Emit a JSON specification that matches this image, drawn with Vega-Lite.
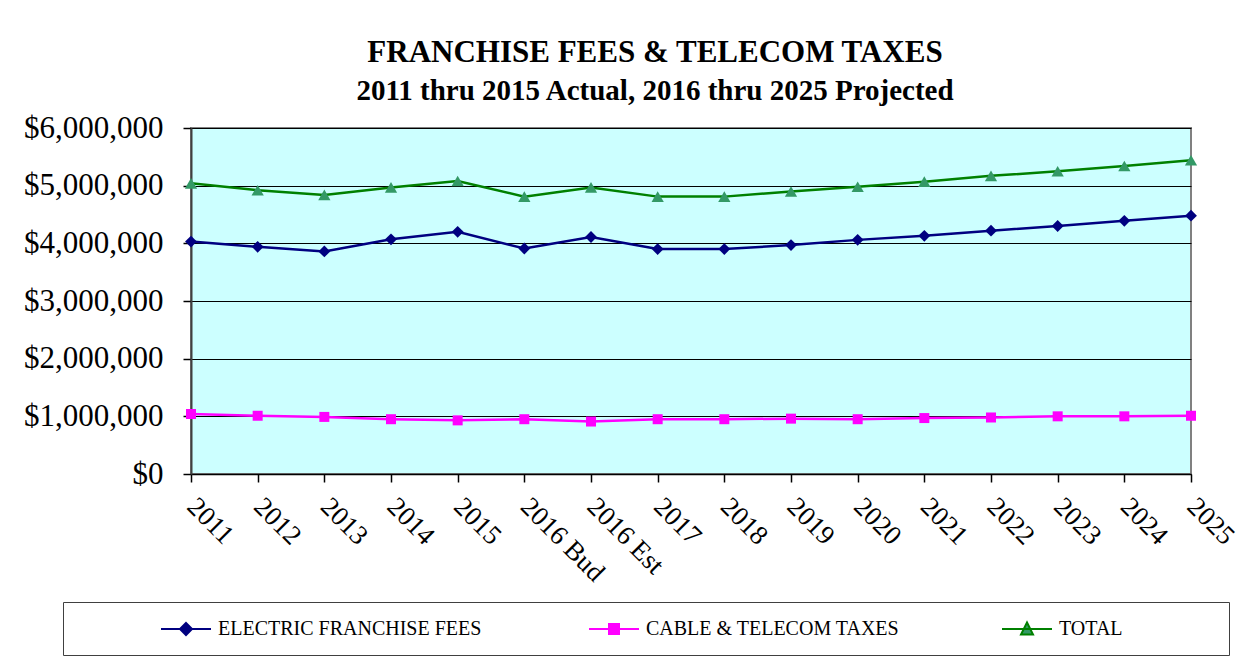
{
  "$schema": "https://vega.github.io/schema/vega-lite/v6.json",
  "width": 1000,
  "height": 346,
  "autosize": {"type": "none"},
  "padding": {"left": 191, "top": 128, "right": 58, "bottom": 198},
  "background": "white",
  "title": {
    "text": "FRANCHISE FEES & TELECOM TAXES",
    "subtitle": "2011 thru 2015 Actual, 2016 thru 2025 Projected",
    "anchor": "middle",
    "frame": "group",
    "dx": -36,
    "offset": 5,
    "font": "Liberation Serif",
    "fontSize": 31,
    "fontWeight": "bold",
    "color": "#000000",
    "subtitleFont": "Liberation Serif",
    "subtitleFontSize": 29,
    "subtitleFontWeight": "bold",
    "subtitleColor": "#000000",
    "subtitlePadding": 8
  },
  "config": {
    "view": {"fill": "#CCFFFF", "stroke": "#808080", "strokeWidth": 2},
    "axis": {"labelFont": "Liberation Serif", "labelColor": "#000000", "domainColor": "#000000", "tickColor": "#000000", "domainWidth": 1.5, "tickWidth": 1.5, "tickSize": 8}
  },
  "data": {
    "values": [
      {"year": "2011", "series": "ELECTRIC FRANCHISE  FEES", "value": 4030000},
      {"year": "2012", "series": "ELECTRIC FRANCHISE  FEES", "value": 3940000},
      {"year": "2013", "series": "ELECTRIC FRANCHISE  FEES", "value": 3860000},
      {"year": "2014", "series": "ELECTRIC FRANCHISE  FEES", "value": 4070000},
      {"year": "2015", "series": "ELECTRIC FRANCHISE  FEES", "value": 4200000},
      {"year": "2016 Bud", "series": "ELECTRIC FRANCHISE  FEES", "value": 3910000},
      {"year": "2016 Est", "series": "ELECTRIC FRANCHISE  FEES", "value": 4110000},
      {"year": "2017", "series": "ELECTRIC FRANCHISE  FEES", "value": 3900000},
      {"year": "2018", "series": "ELECTRIC FRANCHISE  FEES", "value": 3900000},
      {"year": "2019", "series": "ELECTRIC FRANCHISE  FEES", "value": 3970000},
      {"year": "2020", "series": "ELECTRIC FRANCHISE  FEES", "value": 4060000},
      {"year": "2021", "series": "ELECTRIC FRANCHISE  FEES", "value": 4130000},
      {"year": "2022", "series": "ELECTRIC FRANCHISE  FEES", "value": 4220000},
      {"year": "2023", "series": "ELECTRIC FRANCHISE  FEES", "value": 4300000},
      {"year": "2024", "series": "ELECTRIC FRANCHISE  FEES", "value": 4390000},
      {"year": "2025", "series": "ELECTRIC FRANCHISE  FEES", "value": 4480000},
      {"year": "2011", "series": "CABLE & TELECOM TAXES", "value": 1040000},
      {"year": "2012", "series": "CABLE & TELECOM TAXES", "value": 1010000},
      {"year": "2013", "series": "CABLE & TELECOM TAXES", "value": 990000},
      {"year": "2014", "series": "CABLE & TELECOM TAXES", "value": 950000},
      {"year": "2015", "series": "CABLE & TELECOM TAXES", "value": 930000},
      {"year": "2016 Bud", "series": "CABLE & TELECOM TAXES", "value": 950000},
      {"year": "2016 Est", "series": "CABLE & TELECOM TAXES", "value": 910000},
      {"year": "2017", "series": "CABLE & TELECOM TAXES", "value": 950000},
      {"year": "2018", "series": "CABLE & TELECOM TAXES", "value": 950000},
      {"year": "2019", "series": "CABLE & TELECOM TAXES", "value": 960000},
      {"year": "2020", "series": "CABLE & TELECOM TAXES", "value": 950000},
      {"year": "2021", "series": "CABLE & TELECOM TAXES", "value": 970000},
      {"year": "2022", "series": "CABLE & TELECOM TAXES", "value": 980000},
      {"year": "2023", "series": "CABLE & TELECOM TAXES", "value": 1000000},
      {"year": "2024", "series": "CABLE & TELECOM TAXES", "value": 1000000},
      {"year": "2025", "series": "CABLE & TELECOM TAXES", "value": 1010000},
      {"year": "2011", "series": "TOTAL", "value": 5040000},
      {"year": "2012", "series": "TOTAL", "value": 4920000},
      {"year": "2013", "series": "TOTAL", "value": 4840000},
      {"year": "2014", "series": "TOTAL", "value": 4970000},
      {"year": "2015", "series": "TOTAL", "value": 5080000},
      {"year": "2016 Bud", "series": "TOTAL", "value": 4810000},
      {"year": "2016 Est", "series": "TOTAL", "value": 4970000},
      {"year": "2017", "series": "TOTAL", "value": 4810000},
      {"year": "2018", "series": "TOTAL", "value": 4810000},
      {"year": "2019", "series": "TOTAL", "value": 4900000},
      {"year": "2020", "series": "TOTAL", "value": 4980000},
      {"year": "2021", "series": "TOTAL", "value": 5070000},
      {"year": "2022", "series": "TOTAL", "value": 5170000},
      {"year": "2023", "series": "TOTAL", "value": 5250000},
      {"year": "2024", "series": "TOTAL", "value": 5340000},
      {"year": "2025", "series": "TOTAL", "value": 5440000}
    ]
  },
  "encoding": {
    "x": {
      "field": "year", "type": "ordinal", "sort": null,
      "scale": {"type": "point", "padding": 0},
      "axis": {"title": null, "labelAngle": 45, "labelAlign": "left", "labelBaseline": "middle", "labelFontSize": 27, "labelPadding": 20, "labelOverlap": false, "grid": false}
    },
    "y": {
      "field": "value", "type": "quantitative",
      "scale": {"domain": [0, 6000000], "nice": false},
      "axis": {"title": null, "values": [0, 1000000, 2000000, 3000000, 4000000, 5000000, 6000000], "format": "$,.0f", "labelFontSize": 31, "labelPadding": 20, "grid": true, "gridColor": "#000000", "gridWidth": 1, "domainColor": "#404040", "domainWidth": 2}
    }
  },
  "layer": [
    {
      "mark": {"type": "line", "strokeWidth": 2.5},
      "encoding": {
        "color": {
          "field": "series", "type": "nominal",
          "scale": {"domain": ["ELECTRIC FRANCHISE  FEES", "CABLE & TELECOM TAXES", "TOTAL"], "range": ["#000080", "#FF00FF", "#008000"]},
          "legend": {
            "title": " ",
            "titleOrient": "left",
            "titleFontSize": 17,
            "titlePadding": 96,
            "orient": "none",
            "legendX": -128,
            "legendY": 474,
            "direction": "horizontal",
            "padding": 16,
            "strokeColor": "#404040",
            "fillColor": "white",
            "labelFont": "Liberation Serif",
            "labelFontSize": 20,
            "labelColor": "#000000",
            "labelLimit": 600,
            "labelOffset": 21,
            "columnPadding": 98,
            "symbolSize": 400,
            "symbolStrokeWidth": 2,
            "labelExpr": "datum.label == 'TOTAL' ? 'TOTAL\u00a0\u00a0\u00a0\u00a0\u00a0\u00a0\u00a0\u00a0\u00a0\u00a0\u00a0\u00a0\u00a0\u00a0\u00a0\u00a0\u00a0\u00a0\u200b' : datum.label",
            "encode": {
              "symbols": {
                "update": {
                  "shape": {"signal": "datum.value == 'TOTAL' ? 'M-2.5,0L2.5,0M0,-0.65L0.6,0.55L-0.6,0.55Z' : datum.value == 'CABLE & TELECOM TAXES' ? 'M-2.5,0L2.5,0M-0.5,-0.5L0.5,-0.5L0.5,0.5L-0.5,0.5Z' : 'M-2.5,0L2.5,0M0,-0.6L0.6,0L0,0.6L-0.6,0Z'"},
                  "fill": {"signal": "datum.value == 'TOTAL' ? '#339966' : datum.value == 'CABLE & TELECOM TAXES' ? '#FF00FF' : '#000080'"},
                  "fillOpacity": {"value": 1}
                }
              }
            }
          }
        }
      }
    },
    {
      "transform": [{"filter": "datum.series == 'ELECTRIC FRANCHISE  FEES'"}],
      "mark": {"type": "point", "shape": "diamond", "filled": true, "opacity": 1, "color": "#000080", "size": 140}
    },
    {
      "transform": [{"filter": "datum.series == 'CABLE & TELECOM TAXES'"}],
      "mark": {"type": "point", "shape": "square", "filled": true, "opacity": 1, "color": "#FF00FF", "size": 100}
    },
    {
      "transform": [{"filter": "datum.series == 'TOTAL'"}],
      "mark": {"type": "point", "shape": "triangle-up", "filled": true, "opacity": 1, "color": "#339966", "size": 150}
    }
  ]
}
